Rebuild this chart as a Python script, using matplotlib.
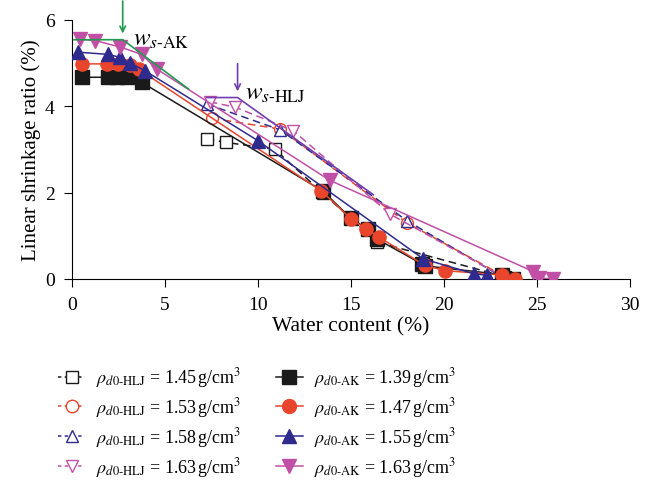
import numpy as np
import matplotlib.pyplot as plt
from matplotlib.lines import Line2D

plt.rcParams['font.family'] = ['Liberation Serif', 'DejaVu Serif']
plt.rcParams['mathtext.fontset'] = 'stix'

# AK samples (filled markers, solid lines)
ak_139_x = [0.55, 1.95, 2.4, 2.95, 3.75, 13.5, 15.0, 15.9, 16.4, 18.8, 19.0, 23.1, 23.7]
ak_139_y = [4.67, 4.67, 4.67, 4.67, 4.55, 2.03, 1.40, 1.15, 0.92, 0.35, 0.30, 0.10, 0.0]
ak_147_x = [0.52, 1.86, 2.48, 3.1, 3.6, 13.4, 15.0, 15.8, 16.5, 18.98, 20.05, 23.1, 23.8]
ak_147_y = [4.98, 4.98, 4.98, 4.95, 4.85, 2.04, 1.39, 1.16, 0.97, 0.31, 0.19, 0.09, 0.0]
ak_155_x = [0.34, 1.95, 2.58, 3.12, 3.92, 10.0, 18.9, 21.6, 22.3]
ak_155_y = [5.25, 5.2, 5.13, 5.0, 4.82, 3.2, 0.46, 0.12, 0.08]
ak_163_x = [0.43, 1.24, 2.58, 3.74, 4.55, 13.87, 24.8, 25.1, 25.85]
ak_163_y = [5.55, 5.52, 5.37, 5.2, 4.86, 2.28, 0.17, 0.02, 0.0]

# HLJ samples (open markers, dashed lines)
hlj_145_x = [7.24, 8.3, 10.9, 13.5, 16.4, 23.3]
hlj_145_y = [3.24, 3.16, 3.0, 1.98, 0.85, 0.05]
hlj_153_x = [7.5, 11.2, 18.0, 23.5]
hlj_153_y = [3.72, 3.47, 1.30, 0.0]
hlj_158_x = [7.24, 11.2, 18.0, 23.3]
hlj_158_y = [4.05, 3.45, 1.35, 0.0]
hlj_163_x = [7.4, 8.76, 11.9, 17.1, 23.4]
hlj_163_y = [4.1, 3.98, 3.43, 1.5, 0.0]

# shrinkage limit construction lines
ws_ak_x = [0.1, 2.72, 6.25]
ws_ak_y = [5.54, 5.54, 4.4]
ws_hlj_x = [7.25, 8.9, 16.2]
ws_hlj_y = [4.2, 4.2, 1.95]

black = '#1a1a1a'
red = '#e8452c'
blue = '#2e2a8e'
pink = '#c14fa6'
green = '#1f9a4e'
purple = '#6f3fb0'

fig = plt.figure(figsize=(6.56, 4.85), dpi=100)
ax = fig.add_axes([0.11, 0.423, 0.85, 0.534])

ak = [(ak_139_x, ak_139_y, black, 's', '1.39'),
      (ak_147_x, ak_147_y, red, 'o', '1.47'),
      (ak_155_x, ak_155_y, blue, '^', '1.55'),
      (ak_163_x, ak_163_y, pink, 'v', '1.63')]
hlj = [(hlj_145_x, hlj_145_y, black, 's', '1.45'),
       (hlj_153_x, hlj_153_y, red, 'o', '1.53'),
       (hlj_158_x, hlj_158_y, blue, '^', '1.58'),
       (hlj_163_x, hlj_163_y, pink, 'v', '1.63')]

dash = (0, (5, 3))
for x, y, c, m, lab in hlj:
    ax.plot(x, y, color=c, ls=dash, lw=1.1, marker=m, ms=8.5,
            mfc='white', mec=c, mew=1.0, zorder=2)
for x, y, c, m, lab in ak:
    ax.plot(x, y, color=c, ls='-', lw=1.1, marker=m, ms=9.5,
            mfc=c, mec=c, zorder=3)

ax.plot(ws_ak_x, ws_ak_y, color=green, lw=1.2, zorder=4)
ax.plot(ws_hlj_x, ws_hlj_y, color=purple, lw=1.2, zorder=4)

ax.annotate('', xy=(2.72, 5.62), xytext=(2.72, 6.5), annotation_clip=False,
            arrowprops=dict(arrowstyle='->', color=green, lw=1.2))
ax.annotate('', xy=(8.9, 4.28), xytext=(8.9, 5.05), annotation_clip=False,
            arrowprops=dict(arrowstyle='->', color=purple, lw=1.2))
ax.text(3.3, 5.55, r'$w_{s\text{-AK}}$', fontsize=18, va='center', ha='left')
ax.text(9.3, 4.3, r'$w_{s\text{-HLJ}}$', fontsize=18, va='center', ha='left')

ax.set_xlim(0, 30)
ax.set_ylim(0, 6)
ax.set_xticks([0, 5, 10, 15, 20, 25, 30])
ax.set_yticks([0, 2, 4, 6])
ax.spines['top'].set_visible(False)
ax.spines['right'].set_visible(False)
ax.tick_params(direction='out', length=5.5, pad=7, labelsize=14)
ax.set_xlabel('Water content (%)', fontsize=15.5, labelpad=2)
ax.set_ylabel('Linear shrinkage ratio (%)', fontsize=15, labelpad=3)

handles = []
labels = []
for x, y, c, m, lab in hlj:
    handles.append(Line2D([], [], color=c, ls=(0, (2.2, 2.2)), lw=1.1, marker=m, ms=9,
                          mfc='white', mec=c))
    labels.append(r'$\rho_{d\mathrm{0}\text{-HLJ}}$' + ' = ' + lab + r'$\,$g/cm$^3$')
for x, y, c, m, lab in ak:
    handles.append(Line2D([], [], color=c, ls='-', lw=1.1, marker=m, ms=10,
                          mfc=c, mec=c))
    labels.append(r'$\rho_{d\mathrm{0}\text{-AK}}$' + ' = ' + lab + r'$\,$g/cm$^3$')

fig.legend(handles, labels, ncol=2, loc='upper left', bbox_to_anchor=(0.064, 0.278),
           frameon=False, fontsize=13, handlelength=1.5, handletextpad=0.6,
           columnspacing=1.9, labelspacing=0.33)

fig.savefig('out.png', dpi=100)
